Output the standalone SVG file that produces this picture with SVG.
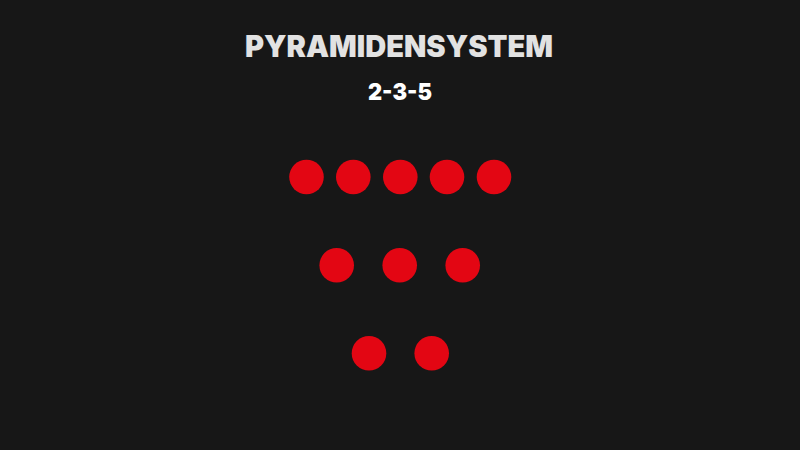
<svg xmlns="http://www.w3.org/2000/svg" width="800" height="450" viewBox="0 0 800 450">
<style>
.title{font-family:Inter,"Noto Sans","Liberation Sans",sans-serif;font-weight:900;fill:#e2e2e2;text-anchor:middle}
.sub{font-family:Inter,"Noto Sans","Liberation Sans",sans-serif;font-weight:900;fill:#ffffff;text-anchor:middle}
.dot{fill:#e30613}
</style>
<rect width="800" height="450" fill="#171717"/>
<g id="title"><text class="title" x="399" y="57" font-size="29.5" textLength="308" lengthAdjust="spacingAndGlyphs">PYRAMIDENSYSTEM</text></g>
<g id="subtitle"><text class="sub" x="400" y="100" font-size="23" textLength="64" lengthAdjust="spacingAndGlyphs">2-3-5</text></g>
<g id="row5">
<circle class="dot" cx="306.5" cy="177" r="17.3"/>
<circle class="dot" cx="353.3" cy="177" r="17.3"/>
<circle class="dot" cx="400.3" cy="177" r="17.3"/>
<circle class="dot" cx="447" cy="177" r="17.3"/>
<circle class="dot" cx="494" cy="177" r="17.3"/>
</g>
<g id="row3">
<circle class="dot" cx="336.7" cy="265.3" r="17.3"/>
<circle class="dot" cx="399.7" cy="265.3" r="17.3"/>
<circle class="dot" cx="462.7" cy="265.3" r="17.3"/>
</g>
<g id="row2">
<circle class="dot" cx="369" cy="353.3" r="17.3"/>
<circle class="dot" cx="431.7" cy="353.3" r="17.3"/>
</g>
<g id="connectors"></g>
</svg>
